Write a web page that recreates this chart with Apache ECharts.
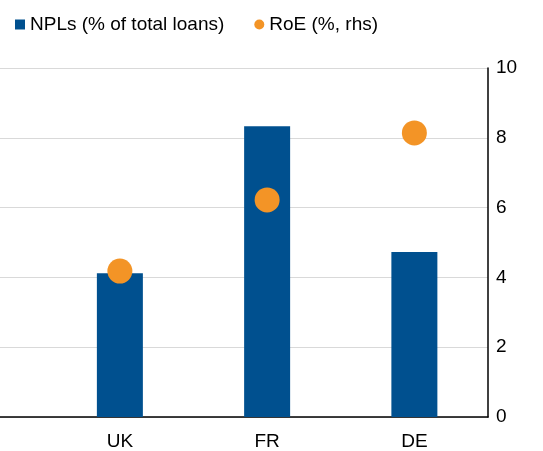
<!DOCTYPE html>
<html>
<head>
<meta charset="utf-8">
<script src="https://cdn.jsdelivr.net/npm/echarts@6/dist/echarts.min.js"></script>
<style>
  html,body{margin:0;padding:0;background:#fff;overflow:hidden;}
  /* chart is wider than the window and shifted left so the first (blank) band is cut off */
  #chart{position:absolute;left:-101px;top:0;width:644px;height:451px;}
</style>
</head>
<body>
<div id="chart"></div>
<script>
var categories = ['', 'UK', 'FR', 'DE'];
var nplValues = [null, 4.12, 8.33, 4.73];
var roeValues = [null, 4.18, 6.22, 8.14];
var yTicks = [0, 2, 4, 6, 8, 10];

var chart = echarts.init(document.getElementById('chart'));

var option = {
    animation: false,
    textStyle: {fontFamily: 'Liberation Sans, Arial, sans-serif'},
    legend: {
        left: 111,
        top: 10,
        itemGap: 30,
        itemWidth: 10,
        itemHeight: 10,
        textStyle: {fontSize: 19, color: '#000'},
        data: [
            {name: 'NPLs (% of total loans)', icon: 'rect'},
            {name: 'RoE (%, rhs)', icon: 'circle'}
        ]
    },
    grid: {
        left: 0,
        right: 55,
        top: 68,
        bottom: 34
    },
    xAxis: {
        type: 'category',
        data: categories,
        axisLine: {lineStyle: {color: '#000', width: 1.5}},
        axisTick: {show: false},
        axisLabel: {fontSize: 19, color: '#000', margin: 15}
    },
    yAxis: {
        type: 'value',
        position: 'right',
        min: yTicks[0],
        max: yTicks[yTicks.length - 1],
        interval: 2,
        axisLine: {show: true, lineStyle: {color: '#000', width: 1.5}},
        axisTick: {show: false},
        axisLabel: {fontSize: 19, color: '#000', margin: 8},
        splitLine: {lineStyle: {color: '#d9d9d9', width: 1.2}}
    },
    series: [
        {
            name: 'NPLs (% of total loans)',
            type: 'bar',
            data: nplValues,
            barWidth: 46,
            itemStyle: {color: '#00508f'}
        },
        {
            name: 'RoE (%, rhs)',
            type: 'scatter',
            data: roeValues,
            symbolSize: 25,
            itemStyle: {color: '#f39426', opacity: 1}
        }
    ]
};

chart.setOption(option);
</script>
</body>
</html>
